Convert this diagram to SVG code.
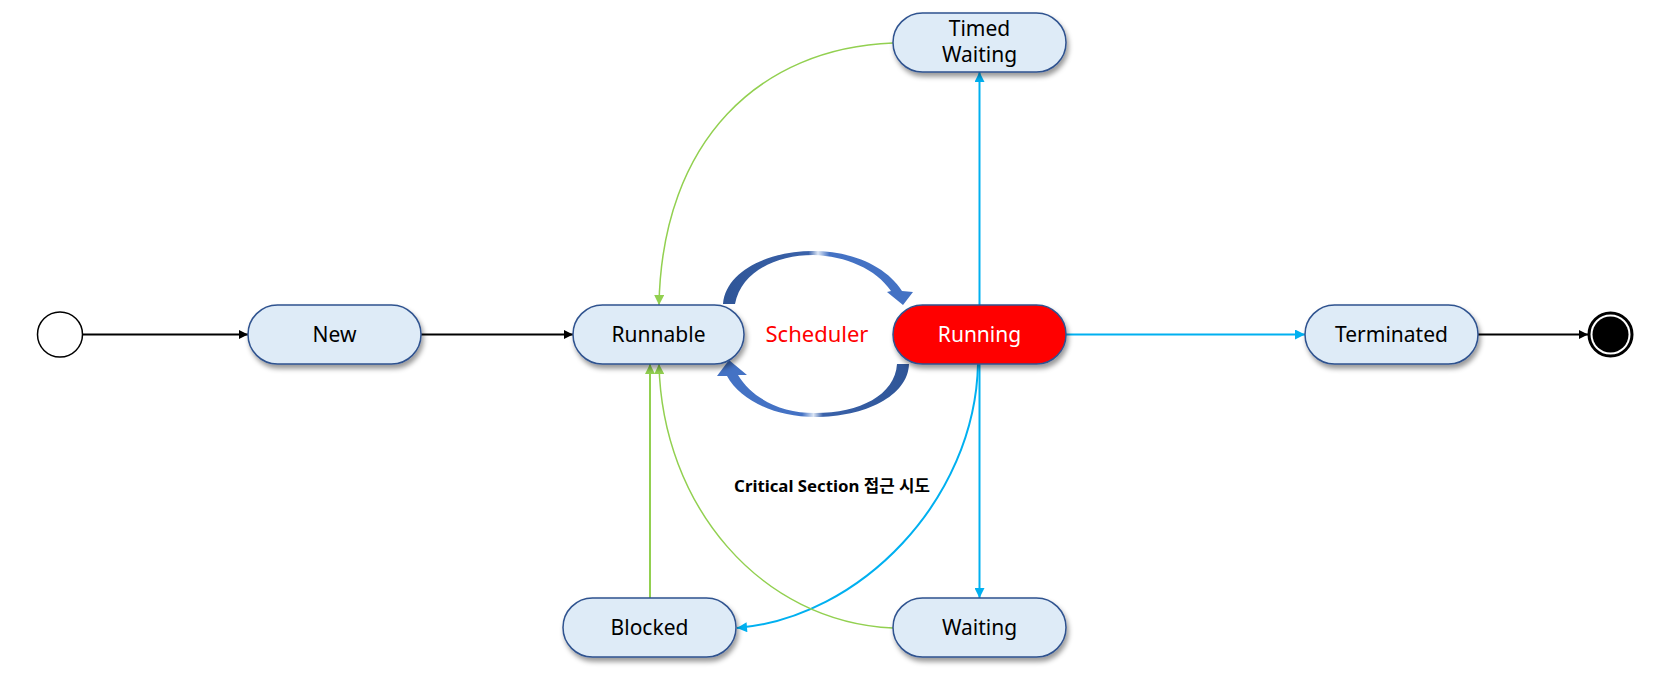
<svg xmlns="http://www.w3.org/2000/svg" width="1666" height="691" viewBox="0 0 1666 691">
  <style>
    .node { fill: #DEEBF7; stroke: #2F528F; stroke-width: 1.5; filter: url(#shadow); }
    .run { fill: #FF0000; stroke: #2F528F; stroke-width: 1.5; filter: url(#shadow); }
    .lbl { font-family: "Noto Sans", "Noto Sans CJK KR", sans-serif; font-size: 21px; fill: #000; text-anchor: middle; }
    .black { stroke: #000; stroke-width: 2; fill: none; }
    .blue { stroke: #00B0F0; stroke-width: 2; fill: none; }
    .green { stroke: #92D050; stroke-width: 2; fill: none; }
    .green1 { stroke: #92D050; stroke-width: 1.5; fill: none; }
  </style>
  <defs>
    <filter id="shadow" x="-20%" y="-30%" width="140%" height="170%">
      <feDropShadow dx="2" dy="4" stdDeviation="2.5" flood-color="#000" flood-opacity="0.4"/>
    </filter>
    <marker id="aBlack" viewBox="0 0 10 10" refX="10" refY="5" markerWidth="10" markerHeight="9" orient="auto" markerUnits="userSpaceOnUse">
      <path d="M0,0 L10,5 L0,10 Z" fill="#000"/>
    </marker>
    <marker id="aBlue" viewBox="0 0 10 10" refX="10" refY="5" markerWidth="12" markerHeight="10" orient="auto" markerUnits="userSpaceOnUse">
      <path d="M0,0 L10,5 L0,10 Z" fill="#00B0F0"/>
    </marker>
    <marker id="aGreen" viewBox="0 0 10 10" refX="10" refY="5" markerWidth="12" markerHeight="10" orient="auto" markerUnits="userSpaceOnUse">
      <path d="M0,0 L10,5 L0,10 Z" fill="#92D050"/>
    </marker>
    <linearGradient id="gUp" x1="723" y1="0" x2="913" y2="0" gradientUnits="userSpaceOnUse">
      <stop offset="0" stop-color="#2F5597"/>
      <stop offset="0.45" stop-color="#3A62AA"/>
      <stop offset="0.5" stop-color="#DCE6F5"/>
      <stop offset="0.56" stop-color="#4472C4"/>
      <stop offset="1" stop-color="#4472C4"/>
    </linearGradient>
    <linearGradient id="gDown" x1="718" y1="0" x2="909" y2="0" gradientUnits="userSpaceOnUse">
      <stop offset="0" stop-color="#4472C4"/>
      <stop offset="0.44" stop-color="#4472C4"/>
      <stop offset="0.5" stop-color="#DCE6F5"/>
      <stop offset="0.55" stop-color="#3A62AA"/>
      <stop offset="1" stop-color="#2F5597"/>
    </linearGradient>
  </defs>

  <g id="connectors">
    <line class="black" x1="83" y1="334.5" x2="248" y2="334.5" marker-end="url(#aBlack)"/>
    <line class="black" x1="421" y1="334.5" x2="573" y2="334.5" marker-end="url(#aBlack)"/>
    <line class="black" x1="1478" y1="334.5" x2="1588" y2="334.5" marker-end="url(#aBlack)"/>
    <line class="blue" x1="1066" y1="334.5" x2="1305" y2="334.5" marker-end="url(#aBlue)"/>
    <line class="blue" x1="979.5" y1="305" x2="979.5" y2="72" marker-end="url(#aBlue)"/>
    <line class="blue" x1="979.5" y1="364" x2="979.5" y2="598" marker-end="url(#aBlue)"/>
    <path class="blue" d="M 978 364 C 975 500 860 618 737 628" marker-end="url(#aBlue)"/>
    <path class="green1" d="M 893 43 C 760 48 662 140 659 305" marker-end="url(#aGreen)"/>
    <path class="green1" d="M 893 628 C 760 622 662 505 659 364" marker-end="url(#aGreen)"/>
    <line class="green" x1="650" y1="598" x2="650" y2="364" marker-end="url(#aGreen)"/>
    <path id="sched-up" fill="url(#gUp)" d="M 723 304 C 726 270 770 251 813 251 C 852 251 886 266 902 291 L 913 292 L 903 305 L 887 292 L 891 291 C 876 269 846 256 813 255 C 776 255 741 272 735 304 Z"/>
    <path id="sched-down" fill="url(#gDown)" d="M 909 364 C 908 396 865 417 815 417 C 775 417 740 400 727 376 L 717 376 L 729 360 L 747 375 L 738 375 C 752 398 780 413 815 413 C 860 413 895 395 897 364 Z"/>
  </g>

  <g id="initial">
    <circle cx="60" cy="334.5" r="22.5" fill="#fff" stroke="#000" stroke-width="1.5"/>
  </g>
  <g id="new">
    <rect class="node" x="248" y="305" width="173" height="59" rx="29.5"/>
    <text class="lbl" x="334.5" y="342">New</text>
  </g>
  <g id="runnable">
    <rect class="node" x="573" y="305" width="171" height="59" rx="29.5"/>
    <text class="lbl" x="658.5" y="342">Runnable</text>
  </g>
  <g id="scheduler">
    <text class="lbl" x="817" y="342" style="fill:#FF0000;font-size:22px">Scheduler</text>
  </g>
  <g id="running">
    <rect class="run" x="893" y="305" width="173" height="59" rx="29.5"/>
    <text class="lbl" x="979.5" y="342" style="fill:#FFFFFF">Running</text>
  </g>
  <g id="terminated">
    <rect class="node" x="1305" y="305" width="173" height="59" rx="29.5"/>
    <text class="lbl" x="1391.5" y="342">Terminated</text>
  </g>
  <g id="final">
    <circle cx="1610.5" cy="334.5" r="21.5" fill="#fff" stroke="#000" stroke-width="3"/>
    <circle cx="1610.5" cy="334.5" r="18" fill="#000"/>
  </g>
  <g id="timed-waiting">
    <rect class="node" x="893" y="13" width="173" height="59" rx="29.5"/>
    <text class="lbl" x="979.5" y="36">Timed</text>
    <text class="lbl" x="979.5" y="62">Waiting</text>
  </g>
  <g id="blocked">
    <rect class="node" x="563" y="598" width="173" height="59" rx="29.5"/>
    <text class="lbl" x="649.5" y="635">Blocked</text>
  </g>
  <g id="waiting">
    <rect class="node" x="893" y="598" width="173" height="59" rx="29.5"/>
    <text class="lbl" x="979.5" y="635">Waiting</text>
  </g>
  <g id="edge-label">
    <text x="832" y="492" style="font-family:'Noto Sans','Noto Sans CJK KR',sans-serif;font-size:16.8px;font-weight:bold;text-anchor:middle;fill:#000">Critical Section 접근 시도</text>
  </g>
</svg>
